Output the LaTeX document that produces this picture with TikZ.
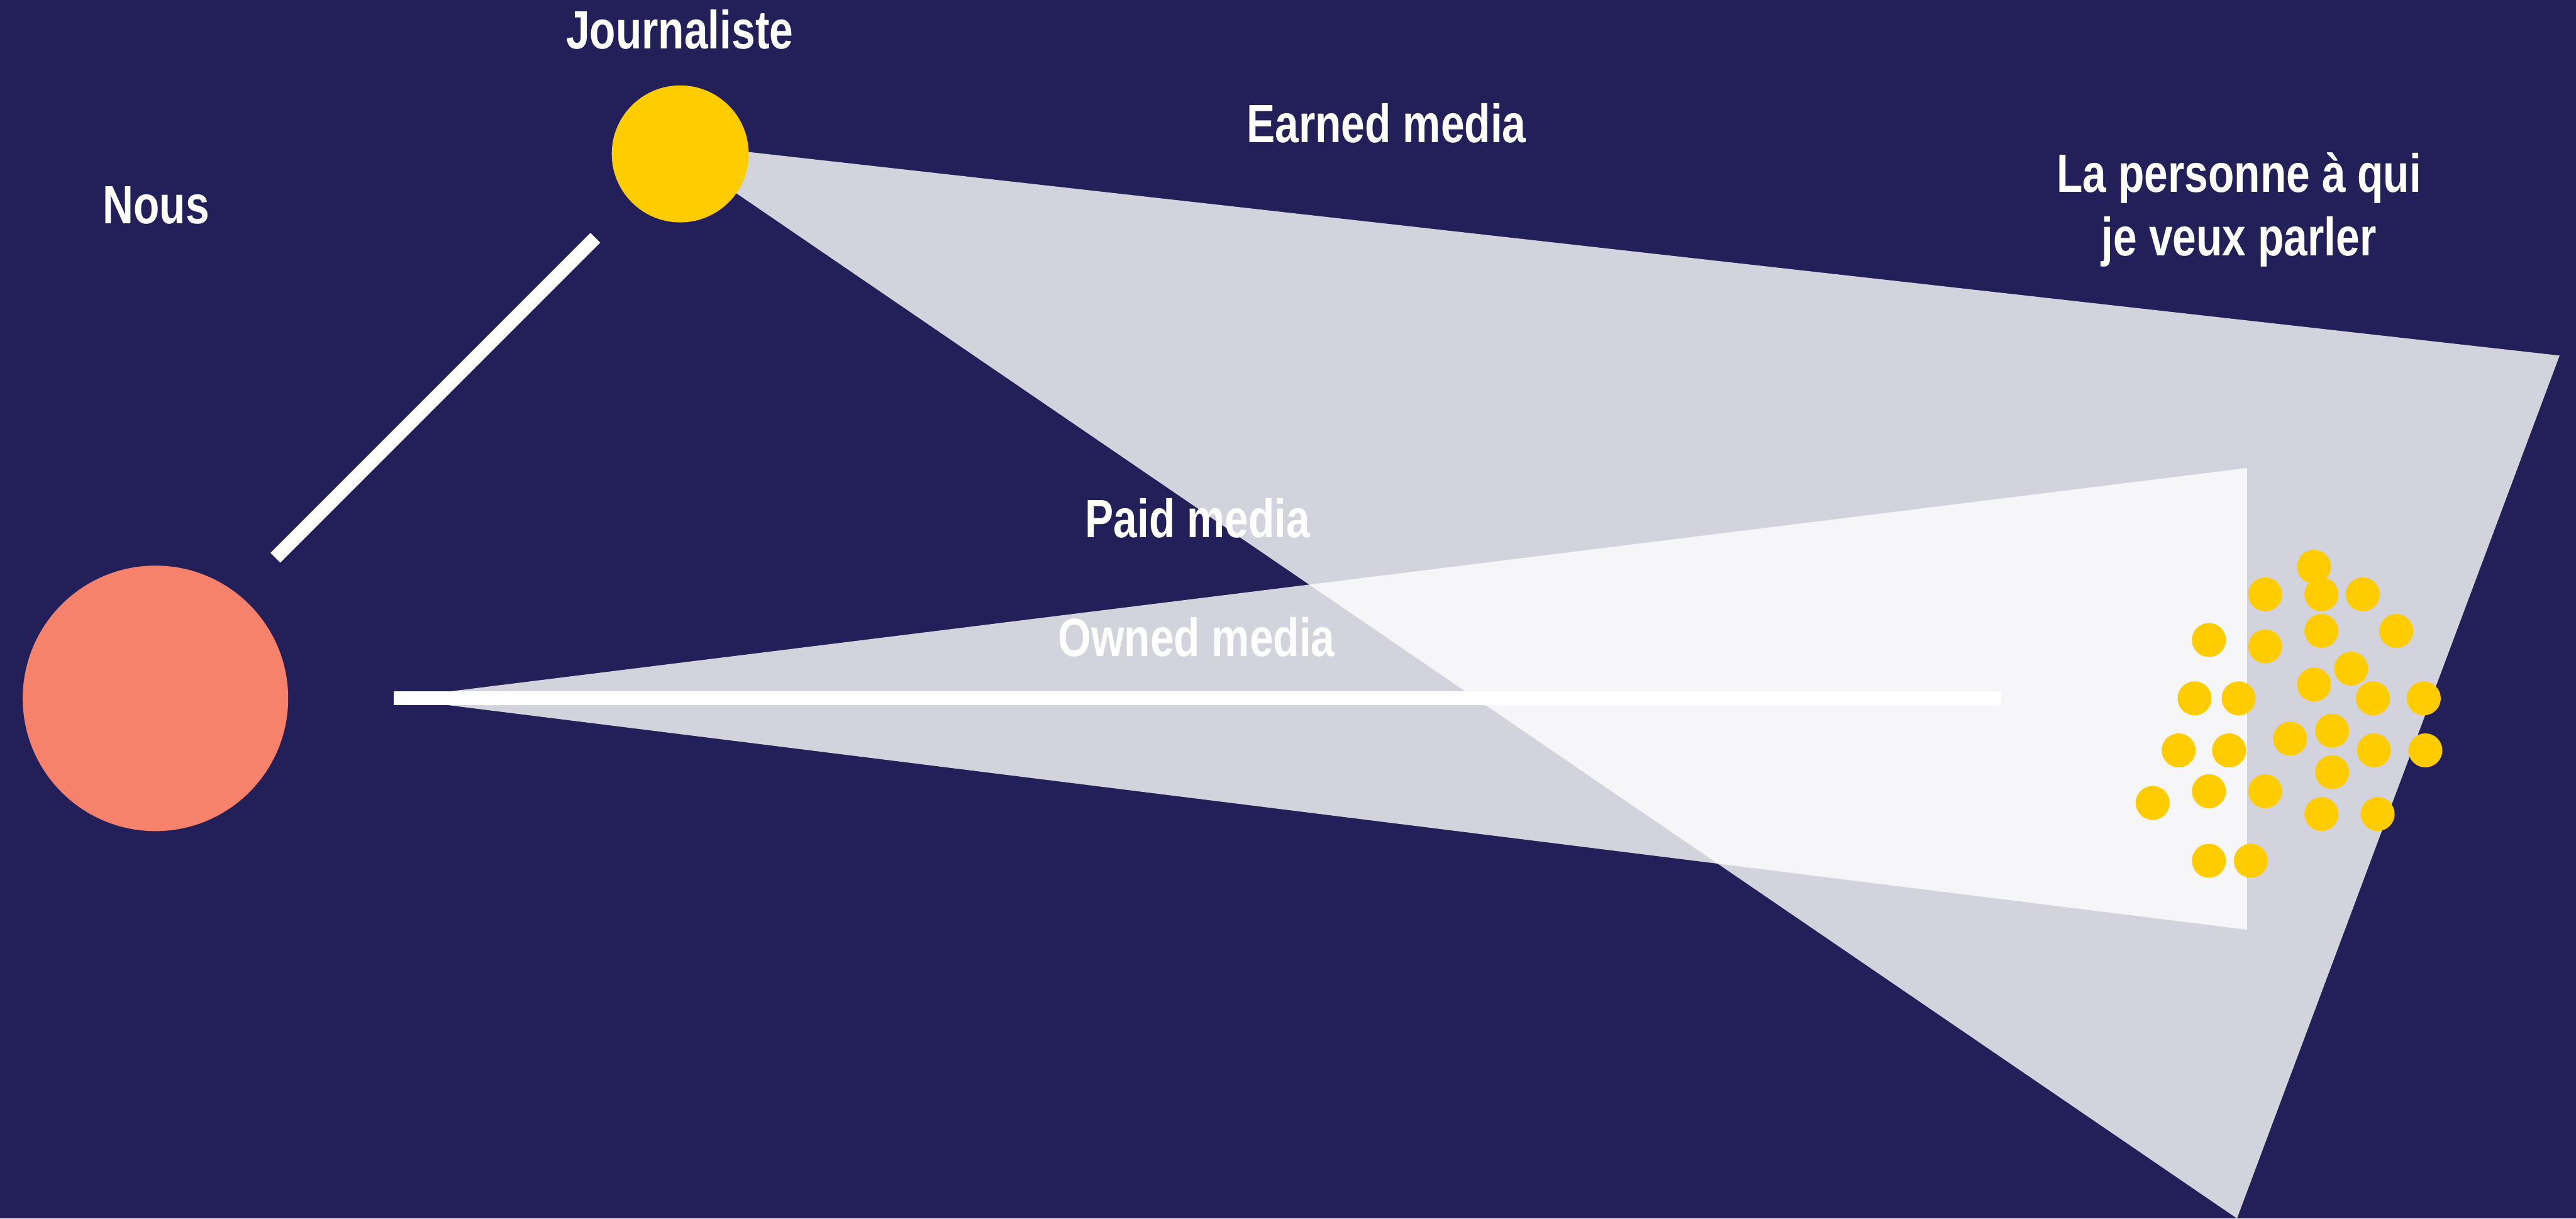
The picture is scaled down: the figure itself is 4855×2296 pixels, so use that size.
\documentclass[tikz,border=0pt]{standalone}
\usepackage{fontspec}
\setmainfont{Liberation Sans}[FakeStretch=0.79]
\definecolor{bgnavy}{HTML}{221F59}
\definecolor{salmon}{HTML}{F7826C}
\definecolor{sunyellow}{HTML}{FFCC00}
\tikzset{
  beam/.style={fill=white, fill opacity=0.805, draw=none},
  bar/.style={draw=white, line width=7.4pt, line cap=butt},
  dotp/.style={circle, fill=sunyellow, minimum size=0.64cm, inner sep=0pt},
  lbl/.style={text=white, font=\fontsize{28.9}{34.1}\selectfont\bfseries, inner sep=0pt, anchor=base, align=center}
}
\begin{document}
\begin{tikzpicture}[x=0.01cm, y=-0.01cm]
\useasboundingbox (0,0) rectangle (4855,2296);
\fill[bgnavy] (0,0) rectangle (4855,2296);
% beams
\begin{scope}
\clip (0,0) rectangle (4855,2296);
\fill[beam] (1247,268) -- (4824,670) -- (4216,2296) -- cycle;
\fill[beam] (742,1316) -- (4235,882) -- (4235,1752) -- cycle;
\end{scope}
% circles
\node[circle, fill=salmon, minimum size=5cm, inner sep=0pt] (nous) at (293,1316) {};
\node[circle, fill=sunyellow, minimum size=2.58cm, inner sep=0pt] (journaliste) at (1282,290) {};
% lines
\coordinate (la) at (519,1051);
\coordinate (lb) at (1122,448);
\draw[bar] (la) -- (lb);
\coordinate (oa) at (742,1316);
\coordinate (ob) at (3771,1316);
\draw[bar] (oa) -- (ob);
% audience dots
\foreach \px/\py [count=\i] in {4361/1068, 4269/1120, 4375/1120, 4453/1120, 4163/1206, 4269/1218, 4375/1189, 4516/1189, 4431/1260, 4361/1290, 4136/1316, 4219/1316, 4472/1316, 4568/1316, 4316/1392, 4395/1377, 4106/1414, 4201/1414, 4474/1414, 4571/1414, 4395/1455, 4057/1513, 4163/1491, 4269/1491, 4375/1534, 4481/1534, 4163/1622, 4242/1622}
  \node[dotp] (d\i) at (\px,\py) {};
% labels
\node[lbl] (tjour) at (1281,92) {Journaliste};
\node[lbl] (tnous) at (294,421) {Nous};
\node[lbl] (tearned) at (2613,268) {Earned media};
\node[lbl] (tperson) at (4220,482) {La personne à qui\\je veux parler};
\node[lbl] (tpaid) at (2257,1013) {Paid media};
\node[lbl] (towned) at (2255,1237) {Owned media};
\end{tikzpicture}
\end{document}
